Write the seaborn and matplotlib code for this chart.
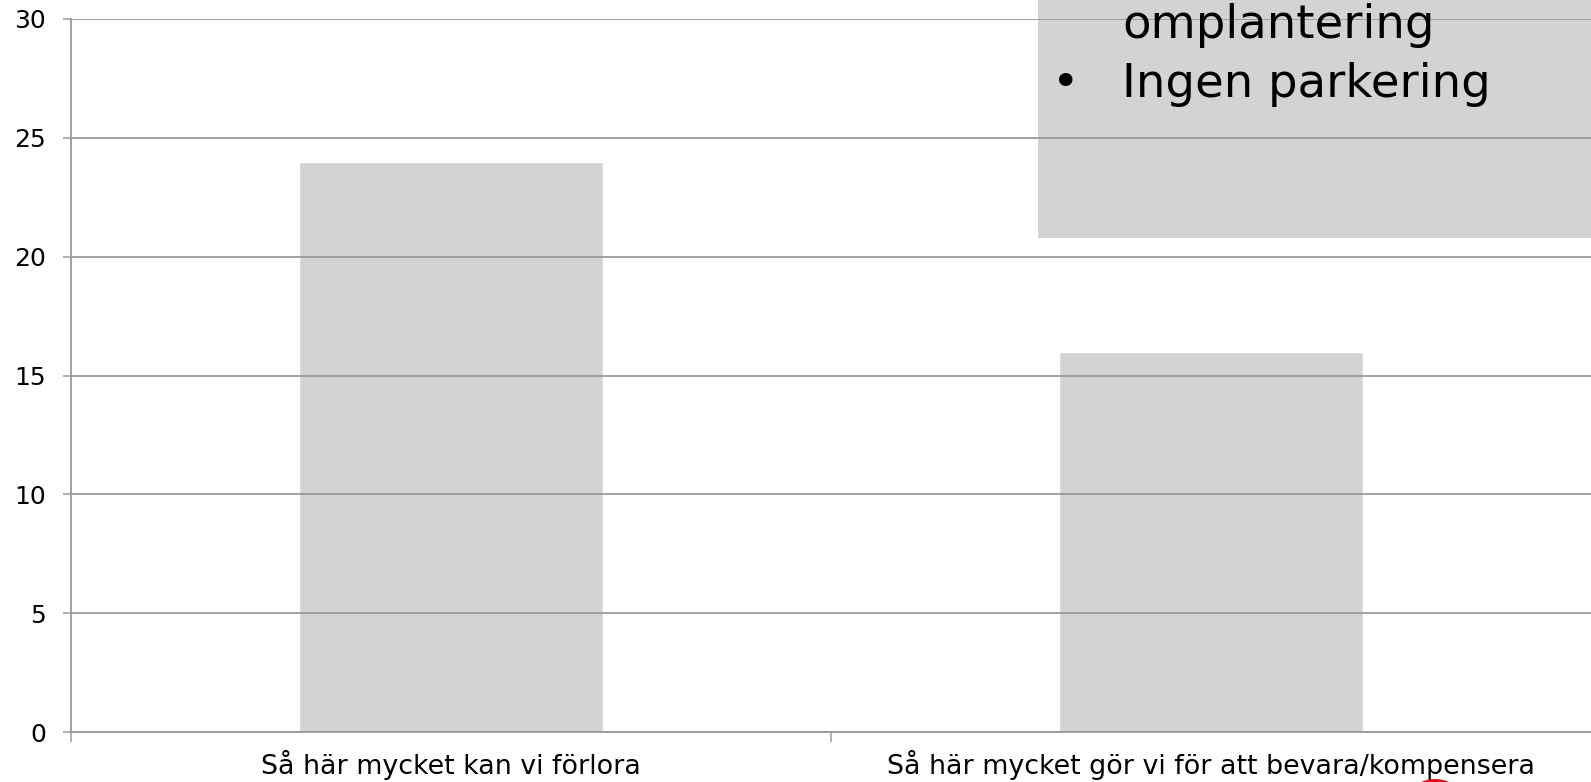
import matplotlib

matplotlib.use("Agg")
import matplotlib.pyplot as plt
import pandas as pd
import seaborn as sns
from matplotlib.patches import Ellipse, Rectangle

# data
categories = ["Så här mycket kan vi förlora", "Så här mycket gör vi för att bevara/kompensera"]
values = [24, 16]
yticks = [0, 5, 10, 15, 20, 25, 30]
box_lines = ["omplantering", "•", "Ingen parkering"]

GRAY = "#d3d3d3"
LINE = "#9a9a9a"
W, H = 1591, 782

sns.set_theme(style="white")
plt.rcParams["font.family"] = ["DejaVu Sans"]

df = pd.DataFrame({"cat": categories, "val": values})

fig = plt.figure(figsize=(W / 100, H / 100), dpi=100)
ax = fig.add_axes([71 / W, 1 - 732 / H, 1 - 71 / W, (732 - 19) / H])

sns.barplot(data=df, x="cat", y="val", color=GRAY, saturation=1, width=0.4, ax=ax, zorder=2)

ax.set_ylim(0, 30)
ax.set_xlim(-0.5, 1.5)
ax.set_yticks(yticks)
ax.set_axisbelow(False)
ax.yaxis.grid(True, color=LINE, lw=1.3, zorder=1.5)
ax.xaxis.grid(False)
for sp in ("top", "right"):
    ax.spines[sp].set_visible(False)
for sp in ("left", "bottom"):
    ax.spines[sp].set_color(LINE)
    ax.spines[sp].set_linewidth(1.3)
    ax.spines[sp].set_zorder(3)

ax.tick_params(axis="y", which="major", left=True, length=6, width=1.1, color=LINE, pad=12, labelsize=18, labelcolor="black")
ax.tick_params(axis="x", which="major", bottom=False, length=0, pad=13, labelsize=19.4, labelcolor="black")
ax.set_xticks([-0.5, 0.5], minor=True)
ax.tick_params(axis="x", which="minor", bottom=True, length=7, width=1.1, color=LINE)
ax.set_xlabel("")
ax.set_ylabel("")

# grey text box in the upper right corner (behind grid lines)
ax.add_patch(Rectangle((1038 / W, 1 - 238 / H), 1, 238 / H, transform=fig.transFigure,
                       facecolor=GRAY, edgecolor="none", zorder=1, clip_on=False))
fig.text(1122 / W, 1 - 38 / H, box_lines[0], fontsize=33.5, va="baseline", ha="left", color="black")
fig.text(1066 / W, 1 - 97 / H, box_lines[1], fontsize=33.5, va="baseline", ha="center", color="black")
fig.text(1122 / W, 1 - 97 / H, box_lines[2], fontsize=33.5, va="baseline", ha="left", color="black")

# red marker partly cut off at the bottom edge
fig.patches.append(Ellipse((1435 / W, 1 - 814 / H), 70 / W, 70 / H, transform=fig.transFigure,
                           facecolor="#d7141a", edgecolor="none", zorder=0))

fig.savefig("out.png", dpi=100)
